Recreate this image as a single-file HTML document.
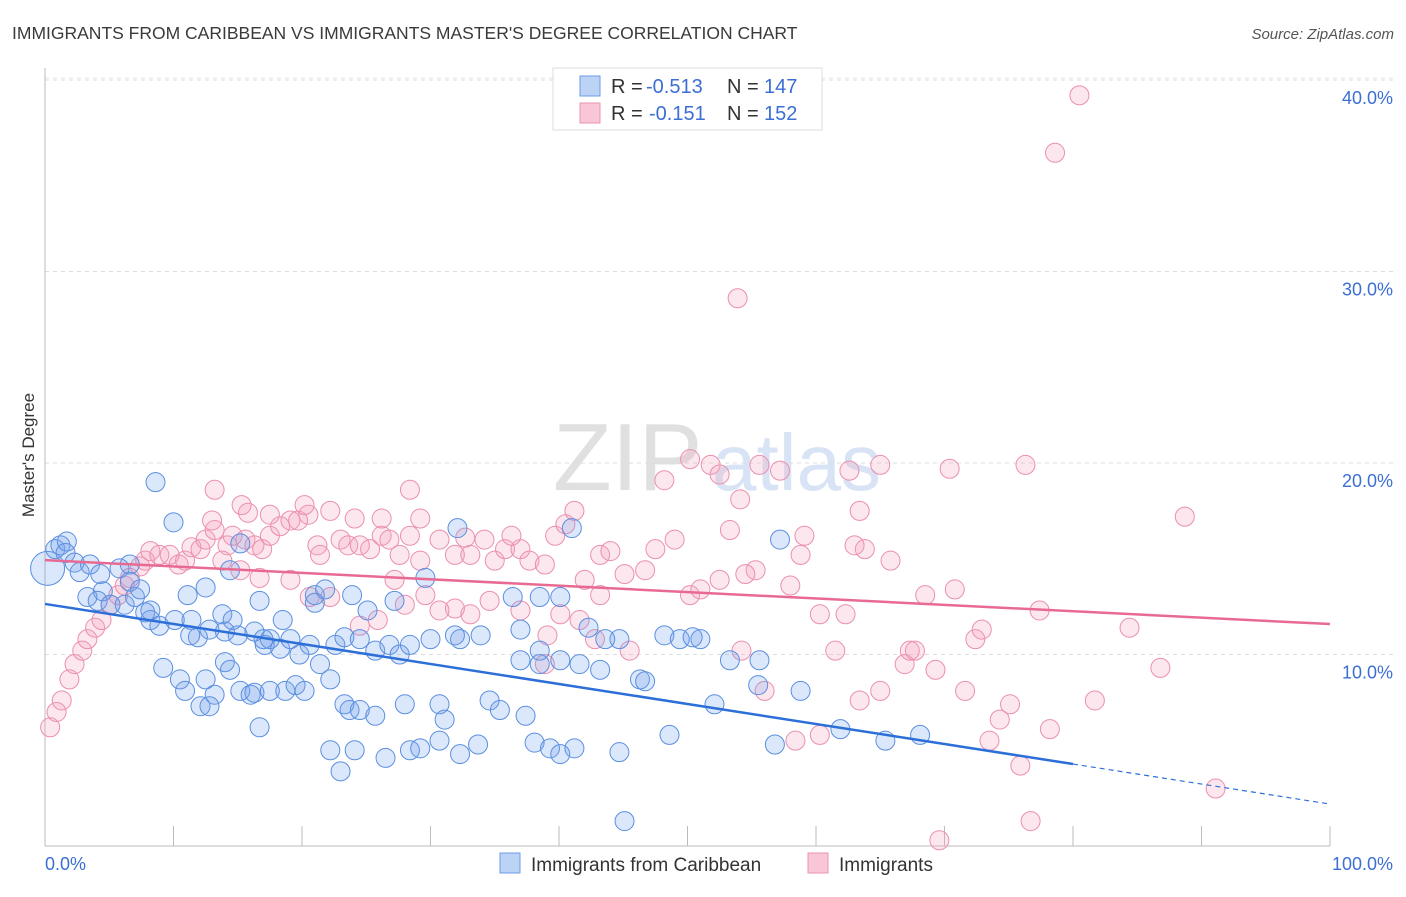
<!DOCTYPE html>
<html><head><meta charset="utf-8"><style>
body{margin:0;background:#fff;font-family:"Liberation Sans",sans-serif;}
svg text{font-family:"Liberation Sans",sans-serif;}
</style></head><body>
<svg id="chart" width="1406" height="892" viewBox="0 0 1406 892">
<text x="12" y="39" font-size="17.5" fill="#3a3a3a">IMMIGRANTS FROM CARIBBEAN VS IMMIGRANTS MASTER'S DEGREE CORRELATION CHART</text>
<text x="1394" y="39" font-size="15" font-style="italic" fill="#555" text-anchor="end">Source: ZipAtlas.com</text>
<g>
<text x="553" y="490" font-size="96" font-family="Liberation Serif, serif" fill="#e0e0e0">ZIP</text>
<text x="712" y="490" font-size="80" fill="#d8e4f5">atlas</text>
</g>
<g id="grid"></g>
<g id="axes"></g>
<g id="pinkPts"></g>
<g id="bluePts"></g>
<g id="lines"></g>
<text x="34" y="455" font-size="17" fill="#333" text-anchor="middle" transform="rotate(-90 34 455)">Master's Degree</text>
<text x="45" y="870" font-size="18" fill="#3b6fd4">0.0%</text>
<text x="1393" y="870" font-size="18" fill="#3b6fd4" text-anchor="end">100.0%</text>
<g>
<rect x="553" y="68" width="269" height="62" fill="#fff" stroke="#ddd"/>
<rect x="580" y="76" width="20" height="20" fill="#bcd3f5" stroke="#6a9be6"/>
<rect x="580" y="103" width="20" height="20" fill="#f8c6d6" stroke="#e994b0"/>
<text x="611" y="93" font-size="20" fill="#333">R =</text>
<text x="646" y="93" font-size="20" fill="#3b6fd4">-0.513</text>
<text x="727" y="93" font-size="20" fill="#333">N =</text>
<text x="764" y="93" font-size="20" fill="#3b6fd4">147</text>
<text x="611" y="120" font-size="20" fill="#333">R =</text>
<text x="649" y="120" font-size="20" fill="#3b6fd4">-0.151</text>
<text x="727" y="120" font-size="20" fill="#333">N =</text>
<text x="764" y="120" font-size="20" fill="#3b6fd4">152</text>
</g>
<g>
<rect x="500" y="853" width="20" height="20" fill="#bcd3f5" stroke="#6a9be6"/>
<text x="531" y="871" font-size="19" fill="#333">Immigrants from Caribbean</text>
<rect x="808" y="853" width="20" height="20" fill="#f8c6d6" stroke="#e994b0"/>
<text x="839" y="871" font-size="19" fill="#333">Immigrants</text>
</g>
</svg>
<script>
const yTicks=[10,20,30,40];
const yTickLabels=["10.0%","20.0%","30.0%","40.0%"];
const xTicks=[0,10,20,30,40,50,60,70,80,90,100];
const blueX=[0.2,0.8,1.2,1.7,1.6,2.3,2.7,3.5,4.3,4.5,5.8,6.6,3.3,4.1,5.1,6.2,7.0,7.8,8.2,8.9,10.1,11.4,11.9,11.3,12.8,14.0,15.0,16.3,17.1,17.5,18.3,19.1,19.8,20.6,21.4,22.6,23.3,24.5,25.7,26.8,27.6,28.4,30.0,32.3,33.9,37.0,38.5,40.1,41.6,43.2,44.7,46.3,48.2,49.4,51.0,53.3,55.6,58.8,9.2,10.5,10.9,12.5,13.2,14.0,14.4,15.2,16.0,16.3,17.5,18.7,19.5,20.2,22.2,23.3,23.7,24.5,25.7,28.0,30.7,31.1,34.6,35.4,37.4,30.7,22.2,24.1,26.5,28.4,29.2,32.3,33.7,38.1,39.3,40.1,41.2,44.7,48.6,52.1,55.5,56.8,61.9,65.4,68.1,23.0,45.1,8.6,10.0,15.2,32.1,41.0,57.2,46.7,11.1,12.5,13.8,14.6,6.6,8.2,16.7,18.5,21.0,21.8,23.9,25.1,27.2,29.6,31.9,36.4,38.5,40.1,42.3,43.6,17.0,12.1,12.8,16.7,38.5,37.0,50.4,14.4,7.4,21.0];
const blueY=[14.5,15.5,15.7,15.9,15.3,14.8,14.3,14.7,14.2,13.3,14.5,14.7,13.0,12.8,12.6,12.6,13.0,12.2,11.8,11.5,11.8,11.8,10.9,11.0,11.3,11.2,11.0,11.2,10.5,10.8,10.3,10.8,10.0,10.5,9.5,10.5,10.9,10.8,10.2,10.5,10.0,10.5,10.8,10.8,11.0,11.3,10.2,9.7,9.5,9.2,10.8,8.7,11.0,10.8,10.8,9.7,9.7,8.1,9.3,8.7,8.1,8.7,7.9,9.6,9.2,8.1,7.9,8.0,8.1,8.1,8.4,8.1,8.7,7.4,7.1,7.1,6.8,7.4,7.4,6.6,7.6,7.1,6.8,5.5,5.0,5.0,4.6,5.0,5.1,4.8,5.3,5.4,5.1,4.8,5.1,4.9,5.8,7.4,8.4,5.3,6.1,5.5,5.8,3.9,1.3,19.0,16.9,15.8,16.6,16.6,16.0,8.6,13.1,13.5,12.1,11.8,13.8,12.3,12.8,11.8,13.1,13.4,13.1,12.3,12.8,14.0,11.0,13.0,13.0,13.0,11.4,10.8,10.8,7.3,7.3,6.2,9.5,9.7,10.9,14.4,13.4,12.7];
const pinkX=[0.4,0.9,1.3,1.9,2.3,2.9,3.3,3.9,4.4,5.1,5.7,6.2,6.6,7.4,7.8,8.2,8.9,9.7,10.4,10.9,11.4,12.1,12.5,13.2,14.2,14.6,15.6,16.3,16.9,17.5,18.3,19.1,19.7,20.5,21.2,21.4,23.0,23.6,24.5,25.3,26.2,26.8,27.6,28.4,29.2,30.7,31.9,33.1,34.2,35.0,35.8,37.0,37.7,39.7,40.5,41.2,42.0,43.2,44.0,45.1,46.7,47.5,48.2,49.0,50.2,51.0,51.8,52.5,53.3,54.1,55.3,55.6,57.2,58.0,58.8,59.1,60.3,61.5,62.3,62.6,63.4,65.0,63.8,65.8,66.9,67.3,68.5,69.3,70.4,71.6,72.4,73.5,74.3,75.1,75.9,78.2,80.5,78.6,53.9,88.7,91.1,69.6,76.7,67.7,65.0,63.4,60.3,58.4,56.0,45.5,42.8,41.6,40.1,39.1,38.9,37.0,34.6,33.1,31.9,30.7,29.6,28.0,27.2,25.9,24.5,22.2,20.6,19.1,16.7,15.2,13.8,13.0,13.2,15.3,15.8,17.5,20.2,22.2,24.1,26.2,28.4,29.2,32.7,36.3,38.9,43.2,52.5,50.2,54.2,54.5,63.0,76.3,84.4,72.9,86.8,70.8,77.4,81.7];
const pinkY=[6.2,7.0,7.6,8.7,9.5,10.2,10.8,11.4,11.8,12.6,13.1,13.6,14.0,14.6,14.9,15.4,15.2,15.2,14.7,14.9,15.6,15.5,16.0,16.5,15.7,16.2,16.0,15.7,15.5,16.2,16.7,17.0,17.0,17.3,15.7,15.2,16.0,15.7,15.7,15.5,16.2,16.0,15.2,16.2,14.9,16.0,15.2,15.2,16.0,14.9,15.5,15.5,14.9,16.2,16.8,17.5,13.9,15.2,15.4,14.2,14.4,15.5,19.1,16.0,13.1,13.4,19.9,13.9,16.5,18.1,14.4,19.9,19.6,13.6,15.2,16.2,12.1,10.2,12.1,19.6,17.5,19.9,15.5,14.9,9.5,10.2,13.1,9.2,19.7,8.1,10.8,5.5,6.6,7.4,4.2,6.1,39.2,36.2,28.6,17.2,3.0,0.3,1.3,10.2,8.1,7.6,5.8,5.5,8.1,10.2,10.8,11.8,12.1,11.0,9.5,12.3,12.8,12.1,12.4,12.3,13.1,12.6,13.9,11.8,11.5,13.0,13.0,13.9,14.0,14.4,14.9,17.0,18.6,17.8,17.4,17.3,17.8,17.5,17.1,17.1,18.6,17.1,16.1,16.2,14.7,13.1,19.4,20.2,10.2,14.2,15.7,19.9,11.4,11.3,9.3,13.4,12.3,7.6];
const blueTrend=[12.64,2.19];
const pinkTrend=[14.93,11.59];
const blueSolidEnd=80;

const NS="http://www.w3.org/2000/svg";
const X0=45,X1=1330,Y0=846,PXY=19.15;
function xs(v){return X0+v*(X1-X0)/100;}
function ys(v){return Y0-v*PXY;}
function mk(tag,attrs,parent){const e=document.createElementNS(NS,tag);for(const k in attrs)e.setAttribute(k,attrs[k]);parent.appendChild(e);return e;}
const grid=document.getElementById('grid'),axes=document.getElementById('axes');
mk('line',{x1:X0,x2:1393,y1:78,y2:78,stroke:'#e4e4e4','stroke-dasharray':'4,4'},grid);
yTicks.forEach((t,i)=>{
  const l=mk('line',{x1:X0,x2:1393,y1:ys(t),y2:ys(t),stroke:'#ddd','stroke-dasharray':'4,4'},grid);
  
  
  const tx=mk('text',{x:1393,y:ys(t)+24,'font-size':18,fill:'#3b6fd4','text-anchor':'end'},grid);
  tx.textContent=yTickLabels[i];
  
  
});
mk('line',{x1:X0,x2:X0,y1:68,y2:Y0,stroke:'#bbb'},axes);
mk('line',{x1:X0,x2:X1,y1:Y0,y2:Y0,stroke:'#bbb'},axes);
xTicks.forEach(t=>{
  const l=mk('line',{x1:xs(t),x2:xs(t),y1:Y0-20,y2:Y0,stroke:'#bbb'},axes);
  
  
});
const pg=document.getElementById('pinkPts');
pinkX.forEach((v,i)=>{
  const c=mk('circle',{cx:xs(v),cy:ys(pinkY[i]),r:9.5,fill:'rgba(244,160,188,0.25)',stroke:'#eb8fae','stroke-width':1},pg);
  
  
});
const bg=document.getElementById('bluePts');
blueX.forEach((v,i)=>{
  const c=mk('circle',{cx:xs(v),cy:ys(blueY[i]),r:i===0?17:9.5,fill:'rgba(110,160,235,0.25)',stroke:'#5b8fe0','stroke-width':1},bg);
  
  
});
const lg=document.getElementById('lines');
function tv(tr,x){return tr[0]+(tr[1]-tr[0])*x/100;}
const bl=mk('line',{x1:xs(0),y1:ys(tv(blueTrend,0)),x2:xs(blueSolidEnd),y2:ys(tv(blueTrend,blueSolidEnd)),stroke:'#2d6fd8','stroke-width':2.5},lg);


const bd=mk('line',{x1:xs(blueSolidEnd),y1:ys(tv(blueTrend,blueSolidEnd)),x2:xs(100),y2:ys(tv(blueTrend,100)),stroke:'#2d6fd8','stroke-width':1.2,'stroke-dasharray':'5,4'},lg);


const pl=mk('line',{x1:xs(0),y1:ys(tv(pinkTrend,0)),x2:xs(100),y2:ys(tv(pinkTrend,100)),stroke:'#e86a93','stroke-width':2.5},lg);


</script>
</body></html>
